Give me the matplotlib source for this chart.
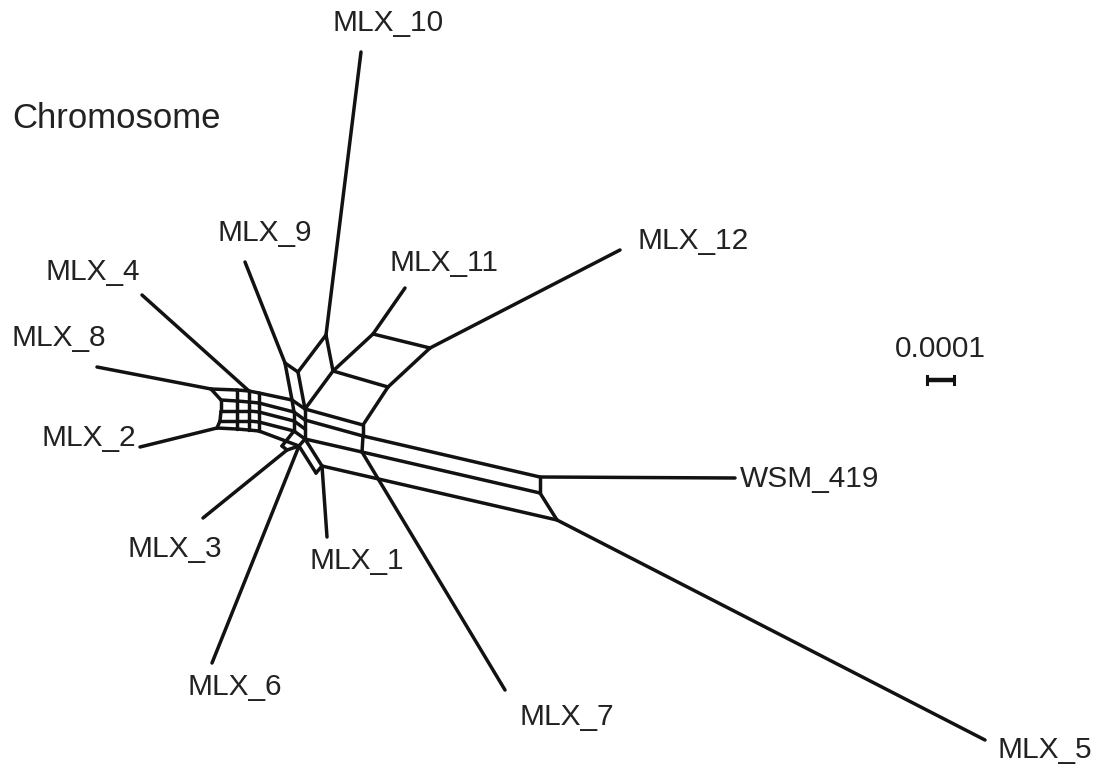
import matplotlib
matplotlib.use("Agg")
import matplotlib.pyplot as plt
from matplotlib.collections import LineCollection

# Splits network for the chromosome alignment.
# Node coordinates are in layout units; SCALE_UNITS layout units = 0.0001 substitutions/site.
SCALE_UNITS = 27
SCALE_LABEL = "0.0001"
TITLE = "Chromosome"

# leaf nodes (taxa)
taxa = ["MLX_10", "MLX_12", "MLX_11", "MLX_9", "MLX_4", "MLX_8", "MLX_2",
        "MLX_3", "MLX_6", "MLX_1", "MLX_7", "WSM_419", "MLX_5"]
taxa_x = [361, 620, 405, 245, 142, 97, 140, 203, 212, 327, 505, 735, 985]
taxa_y = [52, 250, 288, 262, 295, 367, 447, 518, 663, 537, 690, 478, 740]

# internal nodes of the splits graph
inner = ["A", "B", "C", "D", "E", "F", "G", "H", "I", "J", "K", "L", "P",
         "M", "M2", "M3", "N", "M4", "R2", "R25", "R3", "Q", "Q2", "S6", "S3", "S3b",
         "b00", "b10", "b20", "b30",
         "b01", "b11", "b21", "b31",
         "b02", "b12", "b22", "b32",
         "b03", "b13", "b23", "b33",
         "b04", "b14", "b24", "b34"]
inner_x = [540, 540, 557, 363, 363, 362, 388, 430, 373, 333, 326, 298, 305,
           285, 292, 294, 294, 294, 305, 305, 305, 322, 316, 299, 287, 282,
           211, 237, 249, 259,
           221, 237, 249, 259,
           221, 237, 249, 259,
           220, 237, 249, 259,
           217, 237, 249, 259]
inner_y = [477, 493, 520, 425, 436, 452, 387, 348, 334, 371, 335, 372, 409,
           363, 400, 412, 421, 431, 420, 429, 439, 466, 473, 446, 450, 446,
           389, 390, 391, 393,
           400, 401, 402, 403,
           411, 411, 411, 412,
           421, 421, 421, 422,
           428, 429, 430, 431]

# pendant edges: taxon -> attachment node
pendant = ["K", "H", "I", "M", "b20", "b00", "b04", "S3", "S6", "Q", "F", "A", "C"]

# internal edges
edges = [("A", "B"), ("B", "C"), ("D", "E"), ("E", "F"), ("E", "A"), ("F", "B"),
         ("Q", "C"), ("D", "G"), ("G", "H"), ("G", "J"), ("H", "I"), ("I", "J"),
         ("J", "K"), ("K", "L"), ("J", "P"), ("L", "P"), ("P", "D"), ("M", "L"),
         ("M", "M2"), ("M2", "P"), ("M2", "M3"), ("P", "R2"), ("M3", "R2"),
         ("R2", "E"), ("R3", "F"), ("M3", "N"), ("N", "M4"), ("R2", "R25"),
         ("R25", "R3"), ("N", "R25"), ("M4", "R3"), ("R3", "Q"), ("Q", "Q2"),
         ("S6", "Q2"), ("R3", "S6"), ("S6", "S3"), ("M4", "S3b"), ("S3b", "S3"),
         ("b30", "M2"), ("b31", "M3"), ("b32", "N"), ("b33", "M4"), ("b34", "S6"),
         ("b00", "b10"), ("b10", "b20"), ("b20", "b30"),
         ("b01", "b11"), ("b11", "b21"), ("b21", "b31"),
         ("b02", "b12"), ("b12", "b22"), ("b22", "b32"),
         ("b03", "b13"), ("b13", "b23"), ("b23", "b33"),
         ("b04", "b14"), ("b14", "b24"), ("b24", "b34"),
         ("b00", "b01"), ("b01", "b02"), ("b02", "b03"), ("b03", "b04"),
         ("b10", "b11"), ("b11", "b12"), ("b12", "b13"), ("b13", "b14"),
         ("b20", "b21"), ("b21", "b22"), ("b22", "b23"), ("b23", "b24"),
         ("b30", "b31"), ("b31", "b32"), ("b32", "b33"), ("b33", "b34")]

pos = {n: (x, y) for n, x, y in zip(inner, inner_x, inner_y)}
pos.update({t: (x, y) for t, x, y in zip(taxa, taxa_x, taxa_y)})

all_edges = edges + list(zip(taxa, pendant))

# label placement around each leaf: (dx, dy, ha)
label_layout = {
    "MLX_10": (27, -29, "center"),
    "MLX_12": (17, -9, "left"),
    "MLX_11": (-15, -25, "left"),
    "MLX_9": (-27, -29, "left"),
    "MLX_4": (-96, -23, "left"),
    "MLX_8": (-85, -29, "left"),
    "MLX_2": (-98, -9, "left"),
    "MLX_3": (-76, 31, "left"),
    "MLX_6": (-24, 24, "left"),
    "MLX_1": (-17, 24, "left"),
    "MLX_7": (15, 27, "left"),
    "WSM_419": (5, 1, "left"),
    "MLX_5": (12, 10, "left"),
}

ink = "#121212"
txt = "#222222"
plt.rcParams["font.family"] = ["Liberation Sans", "DejaVu Sans"]

fig = plt.figure(figsize=(10.97, 7.67), dpi=100)
ax = fig.add_axes([0, 0, 1, 1])
ax.set_xlim(0, 1097)
ax.set_ylim(767, 0)
ax.axis("off")

segs = [(pos[a], pos[b]) for a, b in all_edges]
ax.add_collection(LineCollection(segs, colors=ink, linewidths=2.5,
                                 capstyle="round", joinstyle="round"))

for t in taxa:
    dx, dy, ha = label_layout[t]
    x, y = pos[t]
    ax.text(x + dx, y + dy, t, ha=ha, va="center", fontsize=21.5, color=txt)

ax.text(12, 119, TITLE, ha="left", va="center", fontsize=25, color=txt)

# scale bar
sx0, sy = 927, 380
ax.plot([sx0, sx0 + SCALE_UNITS], [sy, sy], color=ink, lw=3.2, solid_capstyle="butt")
ax.plot([sx0, sx0], [sy - 4, sy + 4], color=ink, lw=2.2)
ax.plot([sx0 + SCALE_UNITS, sx0 + SCALE_UNITS], [sy - 4, sy + 4], color=ink, lw=2.2)
ax.text(sx0 + SCALE_UNITS / 2, sy - 31, SCALE_LABEL, ha="center", va="center",
        fontsize=21.5, color=txt)

fig.savefig("out.png", dpi=100, facecolor="white")
